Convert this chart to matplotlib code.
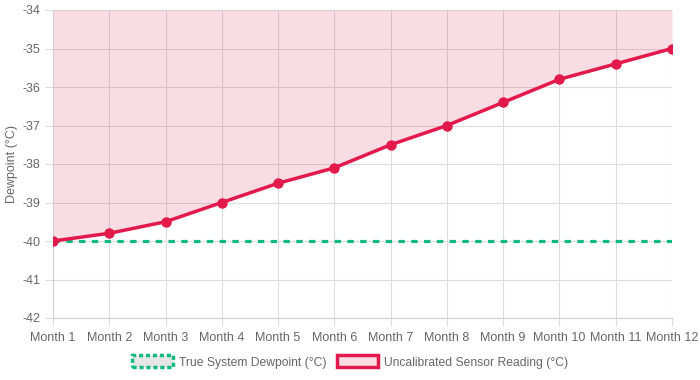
import matplotlib
matplotlib.use("Agg")
import matplotlib.pyplot as plt
from matplotlib.patches import Patch

plt.rcParams['font.family'] = ['Liberation Sans', 'DejaVu Sans']

months = ["Month 1", "Month 2", "Month 3", "Month 4", "Month 5", "Month 6",
          "Month 7", "Month 8", "Month 9", "Month 10", "Month 11", "Month 12"]
true_dewpoint = [-40, -40, -40, -40, -40, -40, -40, -40, -40, -40, -40, -40]
sensor_reading = [-40.0, -39.8, -39.5, -39.0, -38.5, -38.1, -37.5, -37.0, -36.4, -35.8, -35.4, -35.0]
y_ticks = [-42, -41, -40, -39, -38, -37, -36, -35, -34]

RED = '#e3194b'
GREEN = '#10b981'
TXT = '#666666'

fig = plt.figure(figsize=(7, 3.8), dpi=100)
ax = fig.add_axes([53/700, 1-318/380, (672-53)/700, (318-10)/380])

x = list(range(len(months)))
ax.fill_between(x, sensor_reading, y_ticks[-1], color=RED, alpha=0.15, linewidth=0, zorder=1)
ax.plot(x, true_dewpoint, color=GREEN, linewidth=2.3, linestyle=(0, (2.0, 2.0)),
        dash_capstyle='butt', zorder=3)
ax.plot(x, sensor_reading, color=RED, linewidth=2.5, marker='o', markersize=6.5,
        zorder=4, solid_capstyle='round')

ax.set_xlim(0, len(months)-1)
ax.set_ylim(y_ticks[0], y_ticks[-1])
ax.set_xticks(x)
ax.set_xticklabels(months)
ax.set_yticks(y_ticks)
ax.set_yticklabels([str(v) for v in y_ticks])
ax.grid(True, color='#dcdcdc', linewidth=0.8, zorder=0)
ax.set_axisbelow(True)
for s in ['top', 'right']:
    ax.spines[s].set_visible(False)
for s in ['left', 'bottom']:
    ax.spines[s].set_color('#cfcfcf')
    ax.spines[s].set_linewidth(0.8)
ax.tick_params(axis='both', colors='#dcdcdc', labelcolor=TXT, labelsize=9, length=6, width=0.8, pad=3)
ax.tick_params(axis='x', pad=4)
ax.set_ylabel("Dewpoint (°C)", color=TXT, fontsize=9, labelpad=3)

handles = [
    Patch(facecolor='#e6e6e6', edgecolor=GREEN, linestyle=(0, (1.2, 0.8)), linewidth=2.5),
    Patch(facecolor='#fadee3', edgecolor=RED, linewidth=2.5),
]
fig.legend(handles, ["True System Dewpoint (°C)", "Uncalibrated Sensor Reading (°C)"],
           loc='center', bbox_to_anchor=(0.5, 1-362/380), ncol=2, frameon=False,
           fontsize=8.7, labelcolor=TXT, handlelength=3.4, handleheight=1.15,
           columnspacing=0.8, handletextpad=0.5)

fig.savefig("out.png", dpi=100)
